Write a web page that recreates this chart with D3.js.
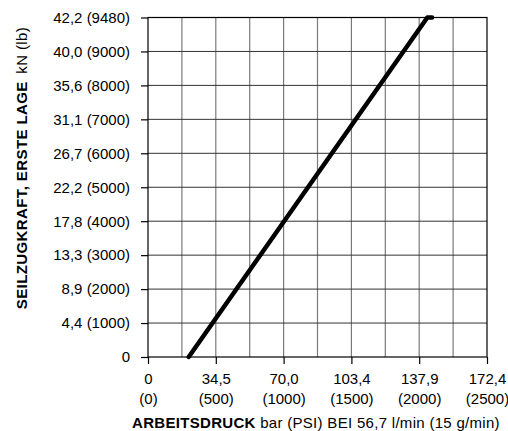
<!DOCTYPE html>
<html><head><meta charset="utf-8">
<script src="https://cdn.jsdelivr.net/npm/d3@7"></script>
<style>body{margin:0;background:#fff}svg{display:block}text{font-family:"Liberation Sans",Arial,sans-serif;fill:#000}</style>
</head><body><svg id="c" width="508" height="431"></svg>
<script>
// data
const psiTicks = [0, 500, 1000, 1500, 2000, 2500];
const barLabels = ["0", "34,5", "70,0", "103,4", "137,9", "172,4"];
const psiGrid = [0, 250, 500, 750, 1000, 1250, 1500, 1750, 2000, 2250, 2500];
const lbTicks = [0, 1000, 2000, 3000, 4000, 5000, 6000, 7000, 8000, 9000, 9480];
const kNLabels = ["0", "4,4", "8,9", "13,3", "17,8", "22,2", "26,7", "31,1", "35,6", "40,0", "42,2"];
const linePsi = [300, 2060, 2095];
const lineLb = [0, 9480, 9480];

const svg = d3.select("#c");
const L = 148, R = 487, T = 17.5, B = 357;
const fs = 15;
const x = d3.scaleLinear().domain([0, 2500]).range([L, R]);
// top tick (9480) sits one full grid step above 9000, as in the original chart
const step = (B - T) / 10;
const y = d3.scaleLinear().domain([0, 9000, 9480]).range([B, B - 9 * step, T]);

// vertical grid
svg.append("g").selectAll("line").data(psiGrid.slice(1, -1)).join("line")
  .attr("x1", d => x(d)).attr("x2", d => x(d)).attr("y1", T).attr("y2", B)
  .attr("stroke", "#7a7a7a").attr("stroke-width", 1.2);
// horizontal grid
svg.append("g").selectAll("line").data(lbTicks.slice(1, -1)).join("line")
  .attr("x1", L).attr("x2", R).attr("y1", d => y(d)).attr("y2", d => y(d))
  .attr("stroke", "#333").attr("stroke-width", 1);
// border
svg.append("rect").attr("x", L).attr("y", T).attr("width", R - L).attr("height", B - T)
  .attr("fill", "none").attr("stroke", "#000").attr("stroke-width", 1.2);

// left axis
const yAxis = d3.axisLeft(y).tickValues(lbTicks).tickSize(7).tickPadding(11)
  .tickFormat((d, i) => i === 0 ? "0" : kNLabels[i] + " (" + d + ")");
const gy = svg.append("g").attr("transform", `translate(${L},0)`).call(yAxis);
gy.select(".domain").remove();
gy.selectAll("line").attr("stroke", "#000").attr("stroke-width", 1.2);
gy.selectAll("text").style("font-size", fs + "px").attr("fill", "#000");

// bottom axis
const xAxis = d3.axisBottom(x).tickValues(psiTicks).tickSize(7).tickFormat("");
const gx = svg.append("g").attr("transform", `translate(0,${B})`).call(xAxis);
gx.select(".domain").remove();
gx.selectAll("line").attr("stroke", "#000").attr("stroke-width", 1.2);
const labs = gx.selectAll(".tick");
labs.append("text").attr("y", 26.5).attr("text-anchor", "middle").style("font-size", fs + "px")
  .text((d, i) => barLabels[i]);
labs.append("text").attr("y", 46.5).attr("text-anchor", "middle").style("font-size", fs + "px")
  .text(d => "(" + d + ")");

// curve
const pts = linePsi.map((p, i) => [p, lineLb[i]]);
svg.append("path").datum(pts)
  .attr("d", d3.line().x(d => x(d[0])).y(d => y(d[1])))
  .attr("fill", "none").attr("stroke", "#000").attr("stroke-width", 4.5)
  .attr("stroke-linecap", "round").attr("stroke-linejoin", "round");

// axis titles
const xt = svg.append("text").attr("x", 316).attr("y", 428).attr("text-anchor", "middle")
  .style("font-size", fs + "px").style("letter-spacing", "0.3px");
xt.append("tspan").attr("font-weight", "bold").text("ARBEITSDRUCK");
xt.append("tspan").text(" bar (PSI) BEI 56,7 l/min (15 g/min)");

const yt = svg.append("text").attr("transform", "translate(27,168) rotate(-90)").attr("text-anchor", "middle")
  .style("font-size", fs + "px").style("letter-spacing", "0.4px");
yt.append("tspan").attr("font-weight", "bold").text("SEILZUGKRAFT, ERSTE LAGE");
yt.append("tspan").text("  kN (lb)").attr("dx", 3);
</script></body></html>
